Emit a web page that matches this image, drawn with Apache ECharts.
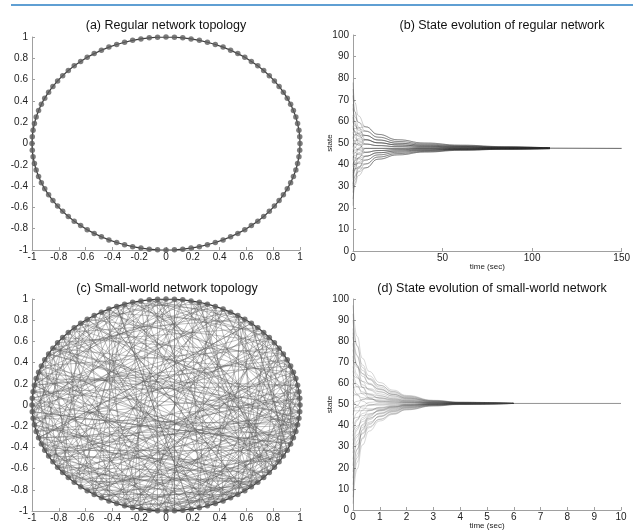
<!DOCTYPE html>
<html><head><meta charset="utf-8">
<script src="https://cdn.jsdelivr.net/npm/echarts@6/dist/echarts.min.js"></script>
<style>html,body{margin:0;padding:0;background:#fff}#c{width:633px;height:531px}</style>
</head><body><div id="c"></div><script>
// ---------- node positions (100 nodes on the unit circle) ----------
const nodeX = [1,0.998,0.992,0.982,0.969,0.951,0.93,0.905,0.876,0.844,0.809,0.771,0.729,0.685,0.637,0.588,0.536,0.482,0.426,0.368,0.309,0.249,0.187,0.125,0.063,0,
-0.063,-0.125,-0.187,-0.249,-0.309,-0.368,-0.426,-0.482,-0.536,-0.588,-0.637,-0.685,-0.729,-0.771,-0.809,-0.844,-0.876,-0.905,-0.93,-0.951,-0.969,-0.982,-0.992,-0.998,-1,
-0.998,-0.992,-0.982,-0.969,-0.951,-0.93,-0.905,-0.876,-0.844,-0.809,-0.771,-0.729,-0.685,-0.637,-0.588,-0.536,-0.482,-0.426,-0.368,-0.309,-0.249,-0.187,-0.125,-0.063,0,
0.063,0.125,0.187,0.249,0.309,0.368,0.426,0.482,0.536,0.588,0.637,0.685,0.729,0.771,0.809,0.844,0.876,0.905,0.93,0.951,0.969,0.982,0.992,0.998];
const nodeY = [0,0.063,0.125,0.187,0.249,0.309,0.368,0.426,0.482,0.536,0.588,0.637,0.685,0.729,0.771,0.809,0.844,0.876,0.905,0.93,0.951,0.969,0.982,0.992,0.998,1,
0.998,0.992,0.982,0.969,0.951,0.93,0.905,0.876,0.844,0.809,0.771,0.729,0.685,0.637,0.588,0.536,0.482,0.426,0.368,0.309,0.249,0.187,0.125,0.063,0,
-0.063,-0.125,-0.187,-0.249,-0.309,-0.368,-0.426,-0.482,-0.536,-0.588,-0.637,-0.685,-0.729,-0.771,-0.809,-0.844,-0.876,-0.905,-0.93,-0.951,-0.969,-0.982,-0.992,-0.998,-1,
-0.998,-0.992,-0.982,-0.969,-0.951,-0.93,-0.905,-0.876,-0.844,-0.809,-0.771,-0.729,-0.685,-0.637,-0.588,-0.536,-0.482,-0.426,-0.368,-0.309,-0.249,-0.187,-0.125,-0.063];

// ---------- small-world shortcut edges (node index pairs) ----------
const chordsC = [
[0,37],[0,61],[1,54],[1,83],[2,29],[2,70],[3,46],[3,88],[4,22],[4,59],
[5,41],[5,77],[6,33],[6,64],[7,52],[7,91],[8,27],[8,68],[9,44],[9,80],
[10,57],[10,35],[11,73],[11,49],[12,31],[12,86],[13,62],[13,40],[14,55],[14,93],
[15,38],[15,71],[16,48],[16,84],[17,65],[17,29],[18,53],[18,96],[19,42],[19,75],
[20,67],[20,50],[21,58],[21,87],[22,45],[22,79],[23,69],[23,36],[24,51],[24,90],
[25,63],[25,82],[26,47],[26,74],[27,60],[27,95],[28,56],[28,81],[29,72],[29,43],
[30,66],[30,89],[31,54],[31,78],[32,70],[32,97],[33,59],[33,85],[34,76],[34,51],
[35,68],[35,92],[36,61],[36,99],[37,80],[37,55],[38,64],[38,90],[39,73],[39,57],
[40,85],[40,66],[41,62],[41,94],[42,77],[42,98],[43,60],[43,88],[44,71],[44,97],
[45,83],[45,63],[46,69],[46,92],[47,86],[47,7],[48,75],[48,3],[49,91],[49,12],
[50,79],[50,8],[51,94],[51,17],[52,84],[52,2],[53,76],[53,20],[54,98],[54,9],
[55,87],[55,14],[56,71],[56,1],[57,93],[57,24],[58,82],[58,5],[59,96],[59,18],
[60,89],[60,11],[61,78],[61,26],[62,99],[62,6],[63,88],[63,19],[64,81],[64,30],
[65,95],[65,4],[66,84],[66,23],[67,92],[67,15],[68,86],[68,32],[69,97],[69,10],
[70,83],[70,25],[71,93],[71,13],[72,88],[72,34],[73,95],[73,21],[74,90],[74,16],
[75,99],[75,28],[76,91],[76,39],[77,96],[77,2],[78,89],[78,31],[79,98],[79,20],
[80,94],[80,36],[81,7],[81,45],[82,19],[82,52],[83,11],[83,38],[84,27],[84,60],
[85,4],[85,47],[86,15],[86,53],[87,30],[87,62],[88,9],[88,41],[89,22],[89,56],
[90,3],[90,35],[91,26],[91,58],[92,12],[92,44],[93,33],[93,67],[94,6],[94,39],
[95,18],[95,50],[96,28],[96,65],[97,14],[97,42],[98,24],[98,57],[99,17],[99,48],
[0,12],[5,17],[10,22],[15,27],[20,31],[25,38],[30,43],[35,46],[40,53],[45,57],
[50,62],[55,68],[60,73],[65,77],[70,82],[75,87],[80,92],[85,97],[90,2],[95,8],
[3,8],[12,17],[22,26],[33,38],[44,49],[52,57],[63,67],[72,77],[83,88],[93,98],
[0,45],[1,29],[2,58],[3,71],[4,36],[5,89],[6,47],[7,63],[8,39],[9,74],
[10,84],[11,27],[12,55],[13,79],[14,33],[15,60],[16,92],[17,41],[18,70],[19,88],
[20,43],[21,66],[22,95],[23,52],[24,76],[25,47],[26,89],[27,71],[28,44],[29,63],
[30,58],[31,92],[32,51],[33,77],[34,96],[35,59],[36,81],[37,66],[38,52],[39,88],
[40,71],[41,99],[42,63],[43,79],[44,58],[45,91],[46,74],[47,61],[48,93],[49,70],
[50,86],[51,69],[52,97],[53,88],[54,73],[55,96],[56,84],[57,78],[58,99],[59,81],
[60,95],[61,87],[62,83],[63,97],[64,92],[65,86],[66,3],[67,98],[68,11],[69,87],
[70,5],[71,94],[72,18],[73,85],[74,8],[75,93],[76,24],[77,12],[78,4],[79,31],
[80,15],[81,26],[82,2],[83,49],[84,9],[85,33],[86,21],[87,45],[88,16],[89,37],
[90,23],[91,6],[92,28],[93,14],[94,51],[95,32],[96,10],[97,55],[98,41],[99,20]
];

// ---------- (b) state evolution of regular network ----------
const timesB = [0,1,3,7,14,25,40,60,85,110];
const statesB = [
[78,68.8,62.6,57.5,54,51.5,50,49,48.3,47.7],
[72,64.6,59.6,55.5,52.7,50.7,49.5,48.7,48.1,47.7],
[66,62.2,59.6,57.5,54,51.5,50,49,48.3,47.7],
[63,58.7,55.9,53.5,51.4,49.9,49,48.4,48,47.6],
[60,58,56.6,55.5,52.7,50.7,49.5,48.7,48.1,47.7],
[58,55.1,53.1,51.5,50.1,49.1,48.5,48.1,47.8,47.6],
[56,56.7,57.1,57.5,54,51.5,50,49,48.3,47.7],
[55,52.5,50.9,49.5,48.8,48.3,48,47.8,47.7,47.5],
[54,53.8,53.6,53.5,51.4,49.9,49,48.4,48,47.6],
[53,50.5,48.9,47.5,47.5,47.5,47.5,47.5,47.5,47.5],
[52,53.6,54.6,55.5,52.7,50.7,49.5,48.7,48.1,47.7],
[51,51.2,51.4,51.5,50.1,49.1,48.5,48.1,47.8,47.6],
[50,48.1,46.8,45.7,46.5,46.9,47.2,47.3,47.4,47.5],
[49,49.2,49.4,49.5,48.8,48.3,48,47.8,47.7,47.5],
[48,50.5,52.1,53.5,51.4,49.9,49,48.4,48,47.6],
[47,45.6,44.7,43.9,45.5,46.3,46.8,47.1,47.3,47.5],
[46,46.7,47.1,47.5,47.5,47.5,47.5,47.5,47.5,47.5],
[45,47.9,49.9,51.5,50.1,49.1,48.5,48.1,47.8,47.6],
[44,43.1,42.6,42.1,44.5,45.7,46.5,47,47.3,47.4],
[43,44.2,45,45.7,46.5,46.9,47.2,47.3,47.4,47.5],
[42,45.4,47.6,49.5,48.8,48.3,48,47.8,47.7,47.5],
[41,40.7,40.5,40.3,43.5,45.1,46.1,46.8,47.2,47.4],
[40,41.8,42.9,43.9,45.5,46.3,46.8,47.1,47.3,47.5],
[39,42.8,45.4,47.5,47.5,47.5,47.5,47.5,47.5,47.5],
[38,38.2,38.4,38.5,42.5,44.5,45.8,46.6,47.1,47.4],
[37,39.3,40.8,42.1,44.5,45.7,46.5,47,47.3,47.4],
[36,40.4,43.3,45.7,46.5,46.9,47.2,47.3,47.4,47.5],
[35,37.4,39,40.3,43.5,45.1,46.1,46.8,47.2,47.4],
[33,37.9,41.2,43.9,45.5,46.3,46.8,47.1,47.3,47.5],
[31,34.4,36.6,38.5,42.5,44.5,45.8,46.6,47.1,47.4],
[29,34.9,38.8,42.1,44.5,45.7,46.5,47,47.3,47.4],
[27,33,37,40.3,43.5,45.1,46.1,46.8,47.2,47.4],
[24,30.5,34.9,38.5,42.5,44.5,45.8,46.6,47.1,47.4],
[21,31.3,38.2,43.9,45.5,46.3,46.8,47.1,47.3,47.5],
[68,59.7,54.1,49.5,48.8,48.3,48,47.8,47.7,47.5],
[62,54.7,49.8,45.7,46.5,46.9,47.2,47.3,47.4,47.5],
[57,55.4,54.4,53.5,51.4,49.9,49,48.4,48,47.6],
[34,41.9,47.1,51.5,50.1,49.1,48.5,48.1,47.8,47.6],
[30,37.9,43.1,47.5,47.5,47.5,47.5,47.5,47.5,47.5],
[75,64.4,57.4,51.5,50.1,49.1,48.5,48.1,47.8,47.6]
];
const tailTimesB = [110,150];
const tailValuesB = [47.6,47.5];

// ---------- (d) state evolution of small-world network ----------
const timesD = [0,0.15,0.35,0.6,1,1.5,2,3,4,6];
const statesD = [
[97,82.4,71.9,65.7,60.4,56.8,54.3,52,51.1,50.5],
[93,78.1,67.6,61.8,57.5,54.8,53,51.5,50.9,50.5],
[90,77.7,68.8,63.6,59.1,56,53.8,51.8,51,50.5],
[86,73.4,64.6,59.7,56.1,54,52.5,51.3,50.8,50.5],
[82,72.8,66.2,62.1,58.3,55.5,53.5,51.7,51,50.5],
[79,68.3,60.9,56.9,54.2,52.7,51.8,51,50.7,50.5],
[76,68.7,63.4,60.1,57,54.7,53,51.5,50.9,50.5],
[73,64.1,58.1,54.9,52.9,51.9,51.3,50.8,50.6,50.5],
[71,67.7,64.7,62.4,59.1,56.2,54,51.9,51.1,50.5],
[68,63.1,59.4,57.2,55,53.4,52.3,51.2,50.8,50.5],
[66,59.5,55,52.8,51.5,51.1,50.8,50.6,50.5,50.5],
[64,62.6,61,59.6,57.2,54.9,53.3,51.6,50.9,50.5],
[62,58.5,56,54.5,53.1,52.2,51.5,50.9,50.7,50.5],
[60,54.9,51.6,50.1,49.7,49.8,50,50.3,50.4,50.5],
[58,58.4,58.2,57.6,55.9,54.1,52.8,51.4,50.9,50.5],
[56,54.3,53.2,52.5,51.8,51.3,51,50.7,50.6,50.5],
[54,54.9,55.3,55.1,54,52.9,52,51.1,50.7,50.5],
[52,49.6,48.3,47.9,48.3,49,49.5,50.1,50.3,50.5],
[50,51.5,52.3,52.6,52.2,51.7,51.3,50.8,50.6,50.5],
[48,48.7,49.2,49.6,49.9,50.1,50.3,50.4,50.5,50.5],
[47,47,47.1,47.3,47.8,48.8,49.5,50.1,50.4,50.5],
[45,49.6,52.4,53.5,53.2,52.4,51.8,51,50.7,50.5],
[43,43.9,44.7,45.6,46.9,48.1,49,49.9,50.3,50.5],
[41,46.1,49.4,51,51.4,51.2,51,50.7,50.6,50.5],
[39,42.9,45.7,47.3,48.4,49.2,49.8,50.2,50.4,50.5],
[37,39.7,41.9,43.6,45.5,47.2,48.5,49.7,50.2,50.5],
[35,42.4,47.3,49.7,50.6,50.7,50.8,50.6,50.5,50.5],
[33,38.8,42.9,45.3,47.1,48.4,49.3,50,50.3,50.5],
[31,35.6,39.1,41.6,44.2,46.4,48,49.5,50.1,50.5],
[29,37.9,43.8,47,48.7,49.5,50,50.3,50.4,50.5],
[27,34.6,40.1,43.3,45.8,47.5,48.8,49.8,50.2,50.5],
[24,30.9,36.1,39.5,42.9,45.6,47.5,49.3,50,50.5],
[21,32.6,40.5,44.8,47.3,48.6,49.5,50.1,50.3,50.5],
[18,28.9,36.5,41,44.4,46.7,48.3,49.6,50.1,50.5],
[15,28.5,37.7,42.8,46,47.8,49,49.9,50.3,50.5],
[12,24.7,33.7,39,43.1,45.8,47.8,49.4,50.1,50.5],
[9,26.4,38.2,44.3,47.5,48.9,49.8,50.2,50.4,50.5],
[6,22.6,34.2,40.5,44.6,46.9,48.5,49.7,50.2,50.5],
[3,19.4,30.8,37.4,42.2,45.3,47.5,49.3,50,50.5],
[84,68.5,58.2,53.2,50.9,50.5,50.3,50.4,50.5,50.5]
];
const tailTimesD = [6,10];
const tailValuesD = [50.5,50.5];

// ---------- titles / axis names ----------
const titles = ['(a) Regular network topology','(b) State evolution of regular network','(c) Small-world network topology','(d) State evolution of small-world network'];
const stateName = 'state';
const timeName = 'time (sec)';

// ---------- build chart ----------
const FONT = 'Liberation Sans, Arial, sans-serif';
const chart = echarts.init(document.getElementById('c'), null, {renderer:'canvas'});
const grids = [
  {left:32, top:37, width:268, height:213},
  {left:353, top:35, width:269, height:216},
  {left:32, top:299, width:268, height:212},
  {left:353, top:299, width:268, height:212}
];
function ax(min,max,interval,extra){
  return Object.assign({type:'value',min,max,interval,
    axisLine:{show:true,onZero:false,lineStyle:{color:'#a0a0a0',width:1}},
    axisTick:{show:true,inside:true,length:3,lineStyle:{color:'#a0a0a0'}},
    axisLabel:{color:'#222',fontSize:10,fontFamily:FONT,margin:3,showMinLabel:true,showMaxLabel:true},
    splitLine:{show:false}}, extra||{});
}
const nameStyle = {fontSize:8,color:'#222',fontFamily:FONT};
const xAxes = [
  Object.assign(ax(-1,1,0.2),{gridIndex:0}),
  Object.assign(ax(0,150,50,{name:timeName,nameLocation:'middle',nameGap:12,nameMoveOverlap:false,nameTextStyle:nameStyle}),{gridIndex:1}),
  Object.assign(ax(-1,1,0.2),{gridIndex:2}),
  Object.assign(ax(0,10,1,{name:timeName,nameLocation:'middle',nameGap:12,nameMoveOverlap:false,nameTextStyle:nameStyle}),{gridIndex:3})
];
const yAxes = [
  Object.assign(ax(-1,1,0.2),{gridIndex:0}),
  Object.assign(ax(0,100,10,{name:stateName,nameLocation:'middle',nameGap:19,nameMoveOverlap:false,nameTextStyle:nameStyle}),{gridIndex:1}),
  Object.assign(ax(-1,1,0.2),{gridIndex:2}),
  Object.assign(ax(0,100,10,{name:stateName,nameLocation:'middle',nameGap:19,nameMoveOverlap:false,nameTextStyle:nameStyle}),{gridIndex:3})
];
xAxes.forEach(a=>{a.axisLabel.margin=2;});
yAxes.forEach(a=>{a.axisLabel.margin=4;});

const series = [];
const nodePts = nodeX.map((x,i)=>[x,nodeY[i]]);
const ringPts = nodePts.concat([nodePts[0]]);
// chords for (c)
series.push({type:'lines',coordinateSystem:'cartesian2d',xAxisIndex:2,yAxisIndex:2,silent:true,animation:false,
  data:chordsC.map(([i,j])=>({coords:[nodePts[i],nodePts[j]]})),
  lineStyle:{color:'#606060',width:0.5,opacity:0.8}});
[0,2].forEach(g=>{
  series.push({type:'line',xAxisIndex:g,yAxisIndex:g,data:ringPts,showSymbol:false,silent:true,animation:false,
    lineStyle:{color:'#3a3a3a',width:1.2},z:3});
  series.push({type:'scatter',xAxisIndex:g,yAxisIndex:g,data:nodePts,symbolSize:5.5,silent:true,animation:false,
    itemStyle:{color:'#5c5c5c'},z:4});
});
const thin = {width:0.5,color:'rgba(40,40,40,0.45)'};
statesB.forEach((row,k)=>{
  const d = row.map((v,j)=>[timesB[j],v]);
  series.push({type:'line',xAxisIndex:1,yAxisIndex:1,data:d,showSymbol:false,smooth:true,smoothMonotone:'x',
    silent:true,animation:false,lineStyle:thin});
});
series.push({type:'line',xAxisIndex:1,yAxisIndex:1,data:tailTimesB.map((t,j)=>[t,tailValuesB[j]]),showSymbol:false,
  silent:true,animation:false,lineStyle:{width:0.9,color:'#555'}});
statesD.forEach((row,k)=>{
  const d = row.map((v,j)=>[timesD[j],v]);
  series.push({type:'line',xAxisIndex:3,yAxisIndex:3,data:d,showSymbol:false,smooth:true,smoothMonotone:'x',
    silent:true,animation:false,lineStyle:{width:0.5,color:'rgba(60,60,60,0.4)'}});
});
series.push({type:'line',xAxisIndex:3,yAxisIndex:3,data:tailTimesD.map((t,j)=>[t,tailValuesD[j]]),showSymbol:false,
  silent:true,animation:false,lineStyle:{width:0.8,color:'#777'}});

const titleStyle = {fontSize:12.5,fontWeight:'normal',color:'#111',fontFamily:FONT};
const titlePos = [[166,19],[502,19],[167,282],[492,282]];
chart.setOption({
  animation:false,
  backgroundColor:'#fff',
  title: titles.map((t,i)=>({text:t,left:titlePos[i][0],top:titlePos[i][1],textAlign:'center',padding:0,textStyle:titleStyle})),
  grid: grids,
  xAxis: xAxes,
  yAxis: yAxes,
  graphic:[{type:'line',shape:{x1:11,y1:5,x2:633,y2:5},style:{stroke:'#2a7fc4',lineWidth:1.5},silent:true}],
  series: series
});
</script></body></html>
